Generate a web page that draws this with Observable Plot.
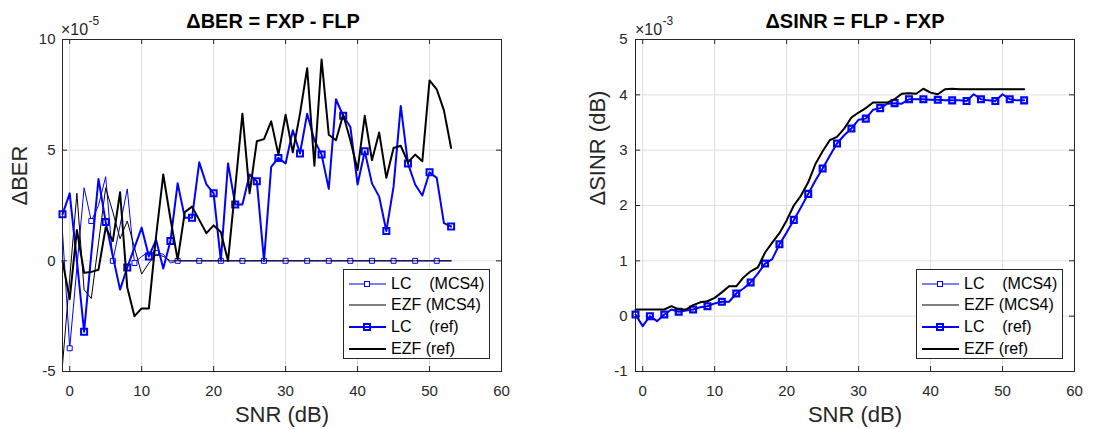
<!DOCTYPE html>
<html><head><meta charset="utf-8">
<script src="https://cdn.jsdelivr.net/npm/d3@7"></script>
<script src="https://cdn.jsdelivr.net/npm/@observablehq/plot@0.6"></script>
<style>
body{margin:0;background:#fff;}
#wrap{position:relative;width:1093px;height:429px;overflow:hidden;font-family:"Liberation Sans",Arial,sans-serif;background:#fff;}
#wrap svg.plot{position:absolute;top:0;}
#wrap svg.expo{position:absolute;top:0;}
.legend{position:absolute;background:#fff;border:1px solid #262626;box-sizing:border-box;width:147px;height:90px;}
.legend .row{position:absolute;left:0;height:20px;width:100%;}
.legend .row svg{position:absolute;left:4px;top:0;}
.legend .row span{position:absolute;left:47px;top:1px;font-size:16px;line-height:18px;color:#000;white-space:pre;}
</style>
</head><body>
<div id="wrap"></div>
<script>
// ---------- data ----------
const snr = [-1,0,1,2,3,4,5,6,7,8,9,10,11,12,13,14,15,16,17,18,19,20,21,22,23,24,25,26,27,28,29,30,31,32,33,34,35,36,37,38,39,40,41,42,43,44,45,46,47,48,49,50,51,52,53];
const xTicks = [0,10,20,30,40,50,60];
const berTicks = [-5,0,5,10];
const sinrTicks = [-1,0,1,2,3,4,5];

// ΔBER in units of 1e-5
const berLcMcs4 = [1.3,-3.95,-0.3,3.3,1.8,2.5,3.8,0,1.6,3.25,-0.1,0.2,0.4,0.35,0.3,-0.1,
  0,0,0,0,0,0,0,0,0,0,0,0,0,0,0,0,0,0,0,0,0,0,0,0,0,0,0,0,0,0,0,0,0,0,0,0,0,0,0];
const berEzfMcs4 = [-4.7,-0.8,3.05,-1.3,-1.7,0.8,3.3,2.2,1.0,1.8,0.6,-0.6,-0.1,0.3,0.2,0.0,
  0,0,0,0,0,0,0,0,0,0,0,0,0,0,0,0,0,0,0,0,0,0,0,0,0,0,0,0,0,0,0,0,0,0,0,0,0,0,0];
const berLcRef = [2.1,3.05,0,-3.2,0.3,3.7,1.75,0.2,-1.3,-0.3,0.6,1.5,0.2,0.95,-0.35,0.9,3.5,1.95,1.95,4.45,3.45,3.05,0,4.4,2.55,2.55,3.9,3.6,0,4.25,4.65,4.4,5.9,4.85,6.65,5.45,4.8,3.25,7.3,6.55,6.05,3.45,4.95,3.5,2.9,1.35,3.35,7.0,4.4,3.45,2.95,4.0,3.75,1.7,1.55];
const berEzfRef = [0,-1.73,1.39,-0.54,-0.5,-0.4,1.5,0.9,3.1,-1.2,-2.5,-2.15,-2.15,1.1,3.9,1.9,0.05,2.2,2.45,1.85,1.25,1.6,1.3,0,3.3,6.65,3.05,5.4,5.5,6.3,4.8,6.6,4.9,6.65,8.7,4.3,9.1,5.7,5.45,6.6,5.45,4.1,6.55,4.55,5.8,3.75,5.1,5.2,4.45,4.8,4.5,8.15,7.75,6.8,5.1];

// ΔSINR in units of 1e-3 dB
const sinrLcRef = [0.03,-0.18,0.0,-0.09,0.03,0.12,0.08,0.1,0.12,0.16,0.18,0.23,0.26,0.26,0.41,0.5,0.61,0.77,0.95,1.03,1.3,1.51,1.74,1.97,2.21,2.45,2.67,2.9,3.12,3.27,3.39,3.55,3.57,3.73,3.76,3.84,3.85,3.84,3.92,3.92,3.92,3.91,3.91,3.9,3.9,3.9,3.89,4.01,3.92,3.9,3.89,4.01,3.92,3.9,3.9];
const sinrLcMcs4 = [0.03,-0.18,0.0,-0.09,0.03,0.12,0.08,0.1,0.12,0.16,0.18,0.23,0.26,0.26,0.41,0.5,0.61,0.77,0.95,1.03,1.3,1.51,1.74,1.97,2.21,2.45,2.67,2.9,3.12,3.27,3.39,3.55,3.57,3.73,3.76,3.84,3.85,3.84,3.92,3.92,3.92,3.91,3.91,3.9,3.9,3.9,3.89,4.01,3.92,3.9,3.89,4.01,3.92,3.9,3.9];
const sinrEzfRef = [0.12,0.12,0.12,0.12,0.12,0.18,0.12,0.12,0.2,0.25,0.27,0.33,0.43,0.54,0.54,0.7,0.81,0.88,1.15,1.33,1.5,1.73,2.0,2.18,2.42,2.75,2.98,3.18,3.24,3.39,3.59,3.68,3.76,3.86,3.86,3.86,3.92,4.02,4.03,4.02,4.11,4.04,4.01,4.1,4.11,4.1,4.1,4.1,4.1,4.1,4.1,4.1,4.1,4.1,4.1];
const sinrEzfMcs4 = [0.12,0.12,0.12,0.12,0.12,0.18,0.12,0.12,0.2,0.25,0.27,0.33,0.43,0.54,0.54,0.7,0.81,0.88,1.15,1.33,1.5,1.73,2.0,2.18,2.42,2.75,2.98,3.18,3.24,3.39,3.59,3.68,3.76,3.86,3.86,3.86,3.92,4.02,4.03,4.02,4.11,4.04,4.01,4.1,4.11,4.1,4.1,4.1,4.1,4.1,4.1,4.1,4.1,4.1,4.1];

const legendLabels = ["LC    (MCS4)", "EZF (MCS4)", "LC    (ref)", "EZF (ref)"];

// ---------- helpers ----------
const FONT = '"Liberation Sans", Arial, sans-serif';
const INK = "#262626";
const rows = arr => snr.map((s, i) => ({snr: s, v: arr[i]}));

function panel({left, width, ml, mr, yDomain, yTicks, series, title, titleDx, ylabel, ylabelDx, yPad}) {
  const H = 429, mt = 39, mb = 58;
  const fh = H - mt - mb, fw = width - ml - mr, tk = 5;
  const marks = [
    Plot.gridX({ticks: xTicks, stroke: "#dfdfdf", strokeOpacity: 1}),
    Plot.gridY({ticks: yTicks, stroke: "#dfdfdf", strokeOpacity: 1})
  ];
  for (const s of series) {
    const d = rows(s.values);
    marks.push(Plot.line(d, {x: "snr", y: "v", stroke: s.color, strokeWidth: s.w}));
    if (s.marker) {
      const md = d.filter(r => s.marker(r.snr));
      marks.push(Plot.dot(md, {x: "snr", y: "v", symbol: "square", r: s.w > 1 ? 3.4 : 2.8,
        stroke: s.color, strokeWidth: s.w > 1 ? 2 : 1, fill: s.w > 1 ? "none" : "white"}));
    }
  }
  marks.push(
    Plot.ruleX(xTicks, {x: d => d, insetTop: fh - tk, stroke: INK}),
    Plot.ruleX(xTicks, {x: d => d, insetBottom: fh - tk, stroke: INK}),
    Plot.ruleY(yTicks, {y: d => d, insetRight: fw - tk, stroke: INK}),
    Plot.ruleY(yTicks, {y: d => d, insetLeft: fw - tk, stroke: INK}),
    Plot.frame({stroke: INK}),
    Plot.axisX({ticks: xTicks, tickSize: 0, tickPadding: 14, fontSize: 15, fill: INK, label: null, tickFormat: d => String(d)}),
    Plot.axisY({ticks: yTicks, tickSize: 0, tickPadding: yPad, fontSize: 15, fill: INK, label: null, tickFormat: d => String(d)}),
    Plot.text([title], {frameAnchor: "top", dy: -18, dx: titleDx, fontWeight: "bold", fontSize: 20, fill: "#000", lineAnchor: "middle"}),
    Plot.text(["SNR (dB)"], {frameAnchor: "bottom", dy: 43, fontSize: 22, fill: INK, lineAnchor: "middle"}),
    Plot.text([ylabel], {frameAnchor: "left", dx: ylabelDx, rotate: -90, fontSize: 22, fill: INK, lineAnchor: "middle"})
  );
  const svg = Plot.plot({
    width, height: H, marginLeft: ml, marginRight: mr, marginTop: mt, marginBottom: mb,
    style: {fontFamily: FONT, fontSize: "15px", color: INK, background: "transparent", overflow: "visible"},
    x: {domain: [-1, 60]},
    y: {domain: yDomain},
    marks
  });
  svg.classList.add("plot");
  svg.style.left = left + "px";
  return svg;
}

// exponent label "×10^n" above the top-left corner of a frame
function exponent(left, expo) {
  const ns = "http://www.w3.org/2000/svg";
  const svg = document.createElementNS(ns, "svg");
  svg.setAttribute("class", "expo");
  svg.setAttribute("width", 60);
  svg.setAttribute("height", 40);
  svg.style.left = left + "px";
  svg.innerHTML = `<text x="0" y="35" font-family='${FONT}' font-size="16" fill="${INK}">×10</text>` +
    `<text x="27.5" y="25" font-family='${FONT}' font-size="12" fill="${INK}">${expo}</text>`;
  return svg;
}

function legend(left, top) {
  const box = document.createElement("div");
  box.className = "legend";
  box.style.left = left + "px";
  box.style.top = top + "px";
  const styles = [
    {color: "blue", w: 1, marker: "thin"},
    {color: "black", w: 1},
    {color: "blue", w: 2, marker: "thick"},
    {color: "black", w: 2}
  ];
  const ys = [4, 25, 47, 69];
  legendLabels.forEach((lab, i) => {
    const st = styles[i];
    const row = document.createElement("div");
    row.className = "row";
    row.style.top = ys[i] + "px";
    let mk = "";
    if (st.marker === "thin") mk = `<rect x="16.5" y="7.5" width="5" height="5" fill="white" stroke="blue" stroke-width="1"/>`;
    if (st.marker === "thick") mk = `<rect x="16" y="7" width="6" height="6" fill="none" stroke="blue" stroke-width="2"/>`;
    row.innerHTML = `<svg width="40" height="20"><line x1="1" x2="38" y1="10" y2="10" stroke="${st.color}" stroke-width="${st.w}"/>${mk}</svg><span>${lab}</span>`;
    box.appendChild(row);
  });
  return box;
}

const wrap = document.getElementById("wrap");
const mcs4Mark = x => ((x % 3) + 3) % 3 === 0;
const refMark = x => ((x + 1) % 3) === 0;
const oddMark = x => Math.abs(x % 2) === 1;

wrap.appendChild(panel({
  left: 0, width: 540, ml: 62, mr: 39, yDomain: [-5, 10], yTicks: berTicks, yPad: 7,
  title: "ΔBER = FXP - FLP", titleDx: -9, ylabel: "ΔBER", ylabelDx: -43,
  series: [
    {values: berLcMcs4, color: "blue", w: 1, marker: mcs4Mark},
    {values: berEzfMcs4, color: "black", w: 1},
    {values: berLcRef, color: "blue", w: 2, marker: refMark},
    {values: berEzfRef, color: "black", w: 2}
  ]
}));
wrap.appendChild(panel({
  left: 540, width: 553, ml: 95, mr: 19, yDomain: [-1, 5], yTicks: sinrTicks, yPad: 8,
  title: "ΔSINR = FLP - FXP", titleDx: 0, ylabel: "ΔSINR (dB)", ylabelDx: -38,
  series: [
    {values: sinrLcMcs4, color: "blue", w: 1, marker: oddMark},
    {values: sinrEzfMcs4, color: "black", w: 1},
    {values: sinrLcRef, color: "blue", w: 2, marker: oddMark},
    {values: sinrEzfRef, color: "black", w: 2}
  ]
}));
wrap.appendChild(exponent(61, "-5"));
wrap.appendChild(exponent(635, "-3"));
wrap.appendChild(legend(343, 269));
wrap.appendChild(legend(916, 269));
</script>
</body></html>
